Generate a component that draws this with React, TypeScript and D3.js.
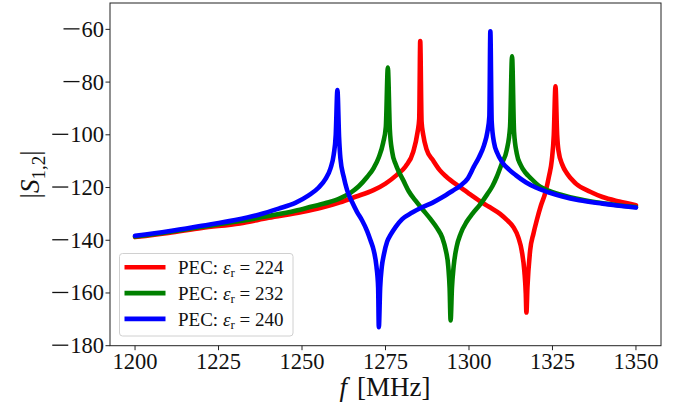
import React from "react";
import * as d3 from "d3";

// values (f in MHz, |S12| in dB)
const redF = [1200, 1210, 1220, 1231.4, 1240, 1250, 1256, 1261.4, 1266, 1271.4, 1275, 1278.4, 1281, 1283.3, 1284.6, 1285.1, 1285.4, 1285.8, 1286.3, 1287.3, 1289.3, 1291.3, 1293.3, 1297.3, 1300, 1303.3, 1306, 1309.3, 1311.5, 1313.3, 1314.8, 1315.8, 1316.6, 1317.0, 1317.2, 1317.5, 1318.3, 1319.3, 1320.3, 1321.5, 1322.8, 1324, 1324.8, 1325.4, 1325.9, 1326.4, 1326.8, 1328, 1329.3, 1332, 1336.3, 1340, 1345, 1350];
const redS = [-138.8, -137.2, -135.3, -133.6, -131.5, -129.3, -127.6, -125.6, -123.5, -121, -118.5, -115.2, -112, -106.5, -99, -94, -64.4, -95, -100, -105.5, -109.8, -113.5, -116, -119.8, -122.3, -125.2, -127.3, -130, -132.5, -135, -139, -144, -152, -160, -167.4, -158, -144, -137.5, -132.4, -127, -122.2, -115.5, -109.6, -100, -81.6, -100, -106, -111.5, -114.6, -118.5, -121.6, -123.6, -125.3, -126.7];

const greenF = [1200, 1210, 1220, 1230, 1240, 1248, 1253, 1258, 1261.5, 1264.5, 1267, 1269.5, 1271.5, 1273, 1274.3, 1275.1, 1275.7, 1276.3, 1277, 1278, 1279, 1280.3, 1282, 1284, 1286.3, 1288.5, 1290.5, 1292, 1293, 1293.8, 1294.2, 1294.5, 1294.9, 1295.4, 1296.3, 1297.5, 1299.3, 1301, 1303.3, 1305.5, 1307, 1308.3, 1309.8, 1311.3, 1312.3, 1312.9, 1313.5, 1314.3, 1315.5, 1317, 1318.3, 1321.3, 1324, 1327.3, 1332, 1338, 1344, 1350];
const greenS = [-138.6, -136.9, -134.9, -133.0, -130.8, -128.8, -127.2, -125.6, -124.0, -122, -119.5, -116, -112.5, -108.5, -103, -97, -74.5, -98, -106.5, -111, -114, -117.2, -121.5, -125, -128.6, -132, -135.5, -139, -143.5, -150, -158, -170.4, -158, -150, -142.5, -137.5, -133, -130, -126.5, -122.5, -119.5, -116, -111, -105.8, -97, -70.2, -99, -107, -111.5, -114.5, -116.2, -119.7, -121.3, -122.6, -124.2, -125.6, -126.6, -127.4];

const blueF = [1200, 1210, 1220, 1230, 1237, 1243, 1248, 1252, 1255, 1257, 1258.5, 1259.5, 1260.1, 1260.6, 1261.1, 1261.5, 1262.5, 1263.5, 1265, 1266.5, 1268, 1269.5, 1270.5, 1271.5, 1272.3, 1272.8, 1273.0, 1273.4, 1273.9, 1274.5, 1275.5, 1276.5, 1278, 1280, 1283, 1286, 1289, 1292, 1295, 1297.5, 1299.5, 1301.5, 1303, 1304.5, 1305.5, 1306.1, 1306.4, 1306.8, 1307.5, 1308.5, 1310, 1312, 1314, 1317, 1320, 1324, 1328, 1333, 1340, 1345, 1350];
const blueS = [-138.3, -136.6, -134.5, -132.3, -130.3, -128.0, -125.8, -123.0, -120.0, -116.8, -112.8, -107.5, -100, -83, -101, -109, -116, -121, -125.5, -129.3, -132.5, -136.5, -140, -144, -150, -158, -173, -158, -150, -145.5, -140.5, -138, -135, -132, -129.5, -127.5, -125.8, -123.7, -121.3, -119.2, -116.8, -112, -108.5, -104, -99, -93, -60.7, -95, -103, -107, -110.5, -113.2, -115.3, -118, -120, -121.9, -123.4, -124.8, -126.1, -126.9, -127.6];

const xTicks = [1200, 1225, 1250, 1275, 1300, 1325, 1350];
const yTicks = [-180, -160, -140, -120, -100, -80, -60];
const seriesNames = ["224", "232", "240"];
const seriesColors = ["#ff0000", "#008000", "#0000ff"];

const font = "'Liberation Serif', 'DejaVu Serif', serif";

const App = () => {
    const width = 688, height = 410;
    const left = 110, top = 3, right = 661, bottom = 345.7;

    const x = d3.scaleLinear().domain([1192.5, 1357.5]).range([left, right]);
    const y = d3.scaleLinear().domain([-180, -50]).range([bottom, top]);

    const series = [
        { f: redF, s: redS },
        { f: greenF, s: greenS },
        { f: blueF, s: blueS },
    ];

    const makePath = (f: number[], s: number[]) =>
        d3.line<number>()
            .x((d, i) => x(f[i]))
            .y((d) => y(d))
            .curve(d3.curveMonotoneX)(s) || "";

    return (
        <svg width={width} height={height} style={{ position: "absolute", left: 0, top: 0, background: "#fff" }}>
            <rect x={0} y={0} width={width} height={height} fill="#fff" />
            <defs>
                <clipPath id="plot-clip">
                    <rect x={left} y={top} width={right - left} height={bottom - top} />
                </clipPath>
            </defs>
            <g clipPath="url(#plot-clip)">
                {series.map((d, i) => (
                    <path key={i} d={makePath(d.f, d.s)} fill="none" stroke={seriesColors[i]}
                        strokeWidth={4.6} strokeLinejoin="round" strokeLinecap="round" />
                ))}
            </g>
            {/* frame */}
            <rect x={left} y={top} width={right - left} height={bottom - top} fill="none" stroke="#222" strokeWidth={1} />
            {/* x ticks */}
            {xTicks.map((t) => (
                <g key={t}>
                    <line x1={x(t)} x2={x(t)} y1={bottom} y2={bottom + 4.5} stroke="#222" strokeWidth={1} />
                    <text x={x(t)} y={bottom + 23} textAnchor="middle" fontFamily={font} fontSize={22.5} fill="#111">{t}</text>
                </g>
            ))}
            {/* y ticks: long minus like the TeX one */}
            {yTicks.map((t) => {
                const label = `${Math.abs(t)}`;
                const numW = label.length * 11.25;
                return (
                    <g key={t}>
                        <line x1={left - 4.5} x2={left} y1={y(t)} y2={y(t)} stroke="#222" strokeWidth={1} />
                        <text x={left - 6} y={y(t)} dy="0.33em" textAnchor="end" fontFamily={font} fontSize={22.5} fill="#111">{label}</text>
                        <line x1={left - 8 - numW - 16} x2={left - 8 - numW} y1={y(t) - 0.5} y2={y(t) - 0.5} stroke="#111" strokeWidth={1.3} />
                    </g>
                );
            })}
            {/* axis labels */}
            <text x={385} y={396} textAnchor="middle" fontFamily={font} fontSize={27} fill="#111">
                <tspan fontStyle="italic">f</tspan>
                <tspan dx={10}>[MHz]</tspan>
            </text>
            <text transform={`translate(39,${(top + bottom) / 2}) rotate(-90)`} textAnchor="middle" fontFamily={font} fontSize={27} fill="#111">
                <tspan>|</tspan>
                <tspan fontStyle="italic">S</tspan>
                <tspan fontSize={19} dy={6}>1,2</tspan>
                <tspan dy={-6}>|</tspan>
            </text>
            {/* legend */}
            <rect x={119.5} y={253.5} width={173.5} height={82.5} rx={3} fill="#fff" fillOpacity={0.8} stroke="#d0d0d0" strokeWidth={1} />
            {seriesNames.map((name, i) => {
                const ly = 267.3 + i * 25.8;
                return (
                    <g key={name}>
                        <line x1={124.5} x2={165.5} y1={ly} y2={ly} stroke={seriesColors[i]} strokeWidth={4.6} />
                        <text x={178} y={ly} dy="0.35em" fontFamily={font} fontSize={19} fill="#111">
                            <tspan>PEC: </tspan>
                            <tspan fontStyle="italic">ε</tspan>
                            <tspan fontSize={13} dy={3}>r</tspan>
                            <tspan dy={-3}> = {name}</tspan>
                        </text>
                    </g>
                );
            })}
        </svg>
    );
};

export default App;
